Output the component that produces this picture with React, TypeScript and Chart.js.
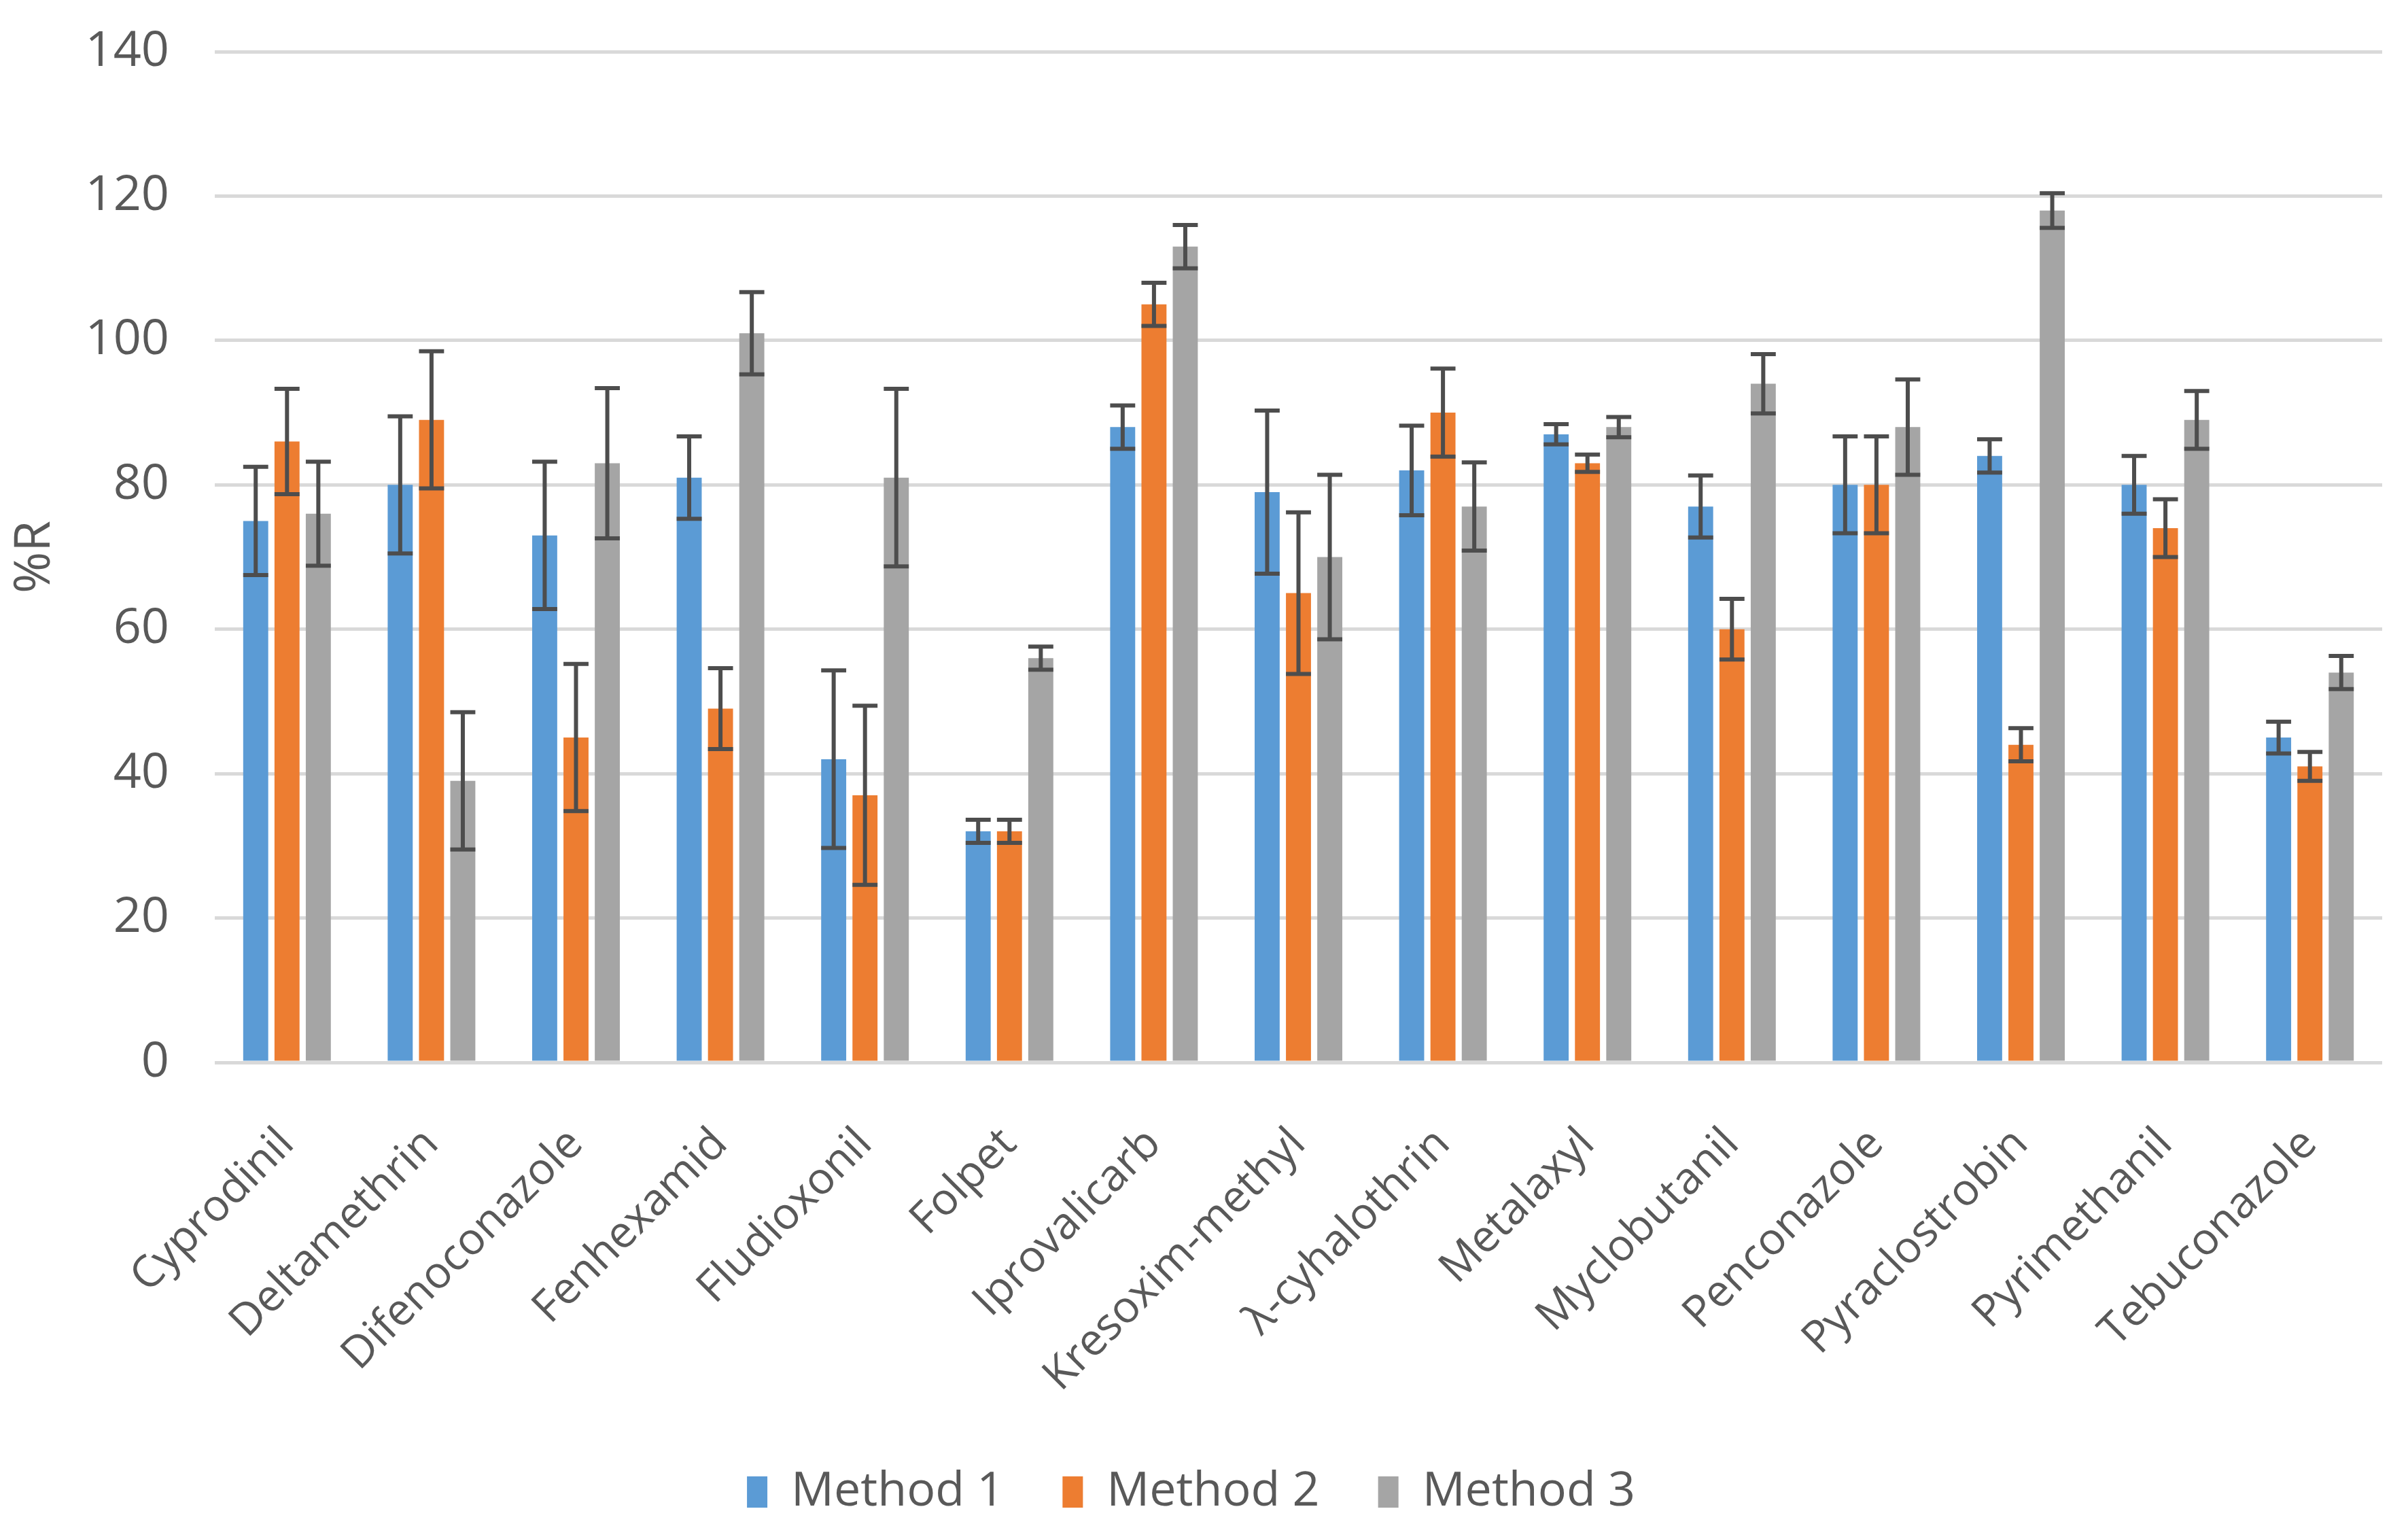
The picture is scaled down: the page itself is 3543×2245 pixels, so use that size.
import React, { useEffect, useRef } from "react";
import { Chart, registerables } from "chart.js";

Chart.register(...registerables);

const categories = [
  "Cyprodinil", "Deltamethrin", "Difenoconazole", "Fenhexamid", "Fludioxonil",
  "Folpet", "Iprovalicarb", "Kresoxim-methyl", "λ-cyhalothrin", "Metalaxyl",
  "Myclobutanil", "Penconazole", "Pyraclostrobin", "Pyrimethanil", "Tebuconazole",
];

const seriesNames = ["Method 1", "Method 2", "Method 3"];

const method1 = [75, 80, 73, 81, 42, 32, 88, 79, 82, 87, 77, 80, 84, 80, 45];
const method1Err = [7.5, 9.5, 10.2, 5.7, 12.3, 1.6, 3, 11.3, 6.2, 1.4, 4.3, 6.7, 2.3, 4, 2.2];

const method2 = [86, 89, 45, 49, 37, 32, 105, 65, 90, 83, 60, 80, 44, 74, 41];
const method2Err = [7.3, 9.5, 10.2, 5.6, 12.4, 1.6, 3, 11.2, 6.1, 1.2, 4.2, 6.7, 2.3, 4, 2];

const method3 = [76, 39, 83, 101, 81, 56, 113, 70, 77, 88, 94, 88, 118, 89, 54];
const method3Err = [7.2, 9.5, 10.4, 5.7, 12.3, 1.6, 3, 11.4, 6.1, 1.4, 4.1, 6.6, 2.4, 4, 2.3];

const yTicks = [0, 20, 40, 60, 80, 100, 120, 140];

const colors = ["#5B9BD5", "#ED7D31", "#A5A5A5"];
const values = [method1, method2, method3];
const errors = [method1Err, method2Err, method3Err];

const W = 3543;
const H = 2245;
const PAD_BOTTOM = 5;
const FONT = "'Open Sans', 'Noto Sans', sans-serif";
const TEXT = "#595959";

const errorBarPlugin = {
  id: "errorBars",
  afterDatasetsDraw(chart: any) {
    const ctx = chart.ctx;
    const y = chart.scales.y;
    ctx.save();
    ctx.strokeStyle = "#4d4d4d";
    ctx.lineWidth = 6;
    chart.data.datasets.forEach((ds: any, i: number) => {
      const meta = chart.getDatasetMeta(i);
      meta.data.forEach((bar: any, j: number) => {
        const v = ds.data[j];
        const e = errors[i][j];
        const top = y.getPixelForValue(v + e);
        const bot = y.getPixelForValue(v - e);
        const x = bar.x;
        const half = bar.width / 2;
        ctx.beginPath();
        ctx.moveTo(x, top);
        ctx.lineTo(x, bot);
        ctx.moveTo(x - half, top);
        ctx.lineTo(x + half, top);
        ctx.moveTo(x - half, bot);
        ctx.lineTo(x + half, bot);
        ctx.stroke();
      });
    });
    ctx.restore();
  },
};

export default function App() {
  const ref = useRef<HTMLCanvasElement | null>(null);

  useEffect(() => {
    if (!ref.current) return;
    const chart = new Chart(ref.current, {
      type: "bar",
      data: {
        labels: categories,
        datasets: seriesNames.map((name, i) => ({
          label: name,
          data: values[i],
          backgroundColor: colors[i],
          borderWidth: 0,
          categoryPercentage: 0.65,
          barPercentage: 0.8,
        })),
      },
      options: {
        animation: false,
        responsive: true,
        maintainAspectRatio: false,
        devicePixelRatio: 1,
        layout: { padding: { top: 76, right: 38, left: 0, bottom: PAD_BOTTOM } },
        plugins: {
          legend: {
            position: "bottom",
            labels: {
              color: TEXT,
              font: { family: FONT, size: 70 },
              boxWidth: 30,
              boxHeight: 46,
              padding: 86,
            },
          },
          tooltip: { enabled: false },
        },
        scales: {
          x: {
            grid: { display: false, drawTicks: false },
            border: { display: false },
            ticks: {
              color: TEXT,
              font: { family: FONT, size: 65 },
              autoSkip: false,
              maxRotation: 45,
              minRotation: 45,
              padding: 82,
            },
            afterFit(scale: any) {
              const legendH = scale.chart.legend ? scale.chart.legend.height : 0;
              scale.height = H - 1563 - legendH - PAD_BOTTOM;
            },
          },
          y: {
            min: 0,
            max: 140,
            afterBuildTicks(scale: any) {
              scale.ticks = yTicks.map((v) => ({ value: v }));
            },
            grid: { color: "#D9D9D9", lineWidth: 5, drawTicks: false },
            border: { display: false },
            ticks: {
              color: TEXT,
              font: { family: FONT, size: 72 },
              padding: 67,
            },
            title: {
              display: true,
              text: "%R",
              color: TEXT,
              font: { family: FONT, size: 74 },
              padding: { top: 8, bottom: 0 },
            },
            afterFit(scale: any) {
              scale.width = 316;
              scale.paddingTop = 0;
              scale.paddingBottom = 0;
            },
          },
        },
      },
      plugins: [errorBarPlugin],
    });
    return () => chart.destroy();
  }, []);

  return (
    <div style={{ position: "fixed", left: 0, top: 0, width: W, height: H, background: "#fff" }}>
      <canvas ref={ref} />
    </div>
  );
}
